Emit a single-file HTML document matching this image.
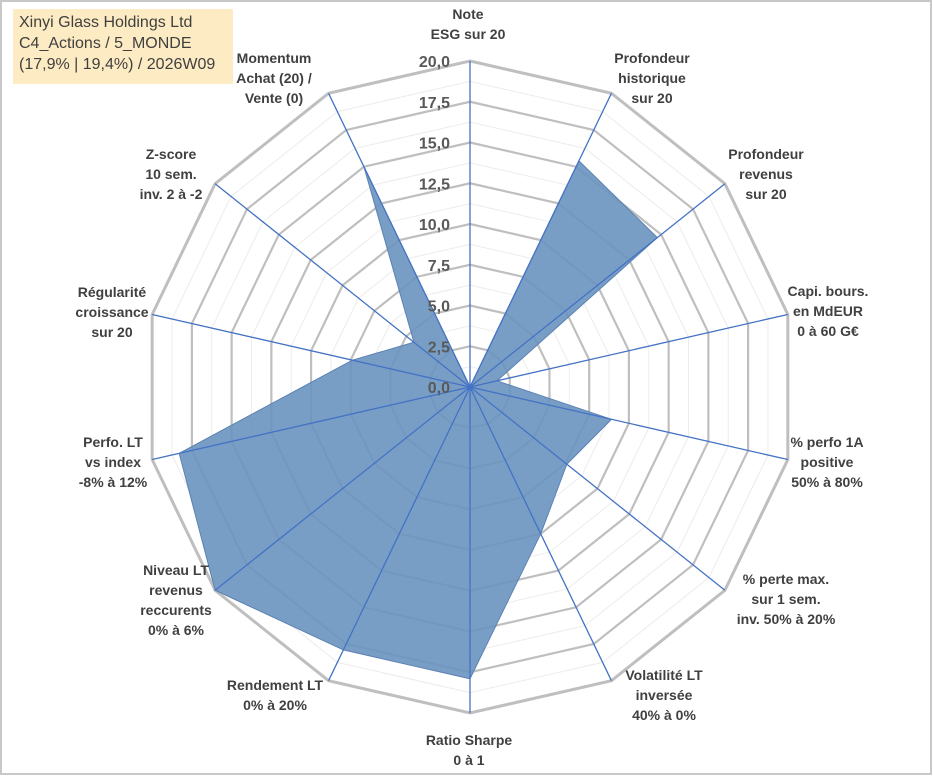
<!DOCTYPE html>
<html><head><meta charset="utf-8"><style>
body{margin:0;background:#fff;}
#wrap{position:relative;width:933px;height:776px;overflow:hidden;font-family:"Liberation Sans",Arial,sans-serif;}
.lbl{position:absolute;font-weight:bold;font-size:14px;color:#404040;text-align:center;line-height:20px;white-space:nowrap;transform:translateX(-50%);}
</style></head><body>
<div id="wrap">
<svg id="svg" width="933" height="776" style="position:absolute;left:0;top:0">
<rect x="1" y="1" width="930" height="773" fill="#fff" stroke="#c8c8c8" stroke-width="2"/>
</svg>
<div style="position:absolute;left:13px;top:9px;width:220px;height:75px;background:#fdebc3;color:#404040;font-size:16px;line-height:21px;padding:3px 0 0 6px;box-sizing:border-box;">Xinyi Glass Holdings Ltd<br>C4_Actions / 5_MONDE<br>(17,9% | 19,4%) / 2026W09</div>
<div class="lbl" style="left:468px;top:4px">Note<br>ESG sur 20</div>
<div class="lbl" style="left:652px;top:48px">Profondeur<br>historique<br>sur 20</div>
<div class="lbl" style="left:766px;top:144px">Profondeur<br>revenus<br>sur 20</div>
<div class="lbl" style="left:828px;top:281px">Capi. bours.<br>en MdEUR<br>0 à 60 G€</div>
<div class="lbl" style="left:827px;top:432px">% perfo 1A<br>positive<br>50% à 80%</div>
<div class="lbl" style="left:786px;top:569px">% perte max.<br>sur 1 sem.<br>inv. 50% à 20%</div>
<div class="lbl" style="left:664px;top:665px">Volatilité LT<br>inversée<br>40% à 0%</div>
<div class="lbl" style="left:469px;top:730px">Ratio Sharpe<br>0 à 1</div>
<div class="lbl" style="left:275px;top:675px">Rendement LT<br>0% à 20%</div>
<div class="lbl" style="left:176px;top:560px">Niveau LT<br>revenus<br>reccurents<br>0% à 6%</div>
<div class="lbl" style="left:113px;top:432px">Perfo. LT<br>vs index<br>-8% à 12%</div>
<div class="lbl" style="left:112px;top:282px">Régularité<br>croissance<br>sur 20</div>
<div class="lbl" style="left:171px;top:144px">Z-score<br>10 sem.<br>inv. 2 à -2</div>
<div class="lbl" style="left:274px;top:48px">Momentum<br>Achat (20) /<br>Vente (0)</div>
</div>
<script>
const categories=["ESG","Prof hist","Prof rev","Capi","Perfo 1A","Perte max","Volatilite","Sharpe","Rendement","Niveau","Perfo LT","Regularite","Z-score","Momentum"];
const values=[0,15.4,14.7,1.7,8.9,7.6,10,17.9,17.9,20,18.3,7.4,4.4,15];
const tickLabels=["0,0","2,5","5,0","7,5","10,0","12,5","15,0","17,5","20,0"];
const maxVal=20;
const svg=document.getElementById('svg');
const NS='http://www.w3.org/2000/svg';
const cx=470,cy=387,R=326;
const n=categories.length;
function ang(i){return -Math.PI/2+i*2*Math.PI/n;}
function pt(i,v){const r=v/maxVal*R;return [cx+r*Math.cos(ang(i)),cy+r*Math.sin(ang(i))];}
function mk(t,a){const e=document.createElementNS(NS,t);for(const k in a)e.setAttribute(k,a[k]);svg.appendChild(e);return e;}
// minor rings
for(let k=1;k<=16;k++){
  const v=k*maxVal/16;const major=k%2===0;
  const pts=[];for(let i=0;i<n;i++)pts.push(pt(i,v).join(','));
  const p=mk('polygon',{points:pts.join(' '),fill:'none',stroke:major?'#bfbfbf':'#ececec','stroke-width':k===16?3:(major?2.2:1)});
  
  
}
// data polygon
const dp=[];for(let i=0;i<n;i++)dp.push(pt(i,values[i]).join(','));
const poly=mk('polygon',{points:dp.join(' '),fill:'#6a93c0','fill-opacity':0.9,stroke:'#5b82b3','stroke-width':1});


// spokes
for(let i=0;i<n;i++){
  const e=pt(i,maxVal);
  const l=mk('line',{x1:cx,y1:cy,x2:e[0],y2:e[1],stroke:'#4472c4','stroke-width':1.3});
  
  
}
// tick labels
for(let k=0;k<tickLabels.length;k++){
  const y=cy-k*2.5/maxVal*R;
  const t=mk('text',{x:cx-20,y:y+6,'text-anchor':'end','font-family':'Liberation Sans, Arial, sans-serif','font-size':16,'font-weight':'bold',fill:'#595959'});
  t.textContent=tickLabels[k];
  
  
}
</script>
</body></html>
